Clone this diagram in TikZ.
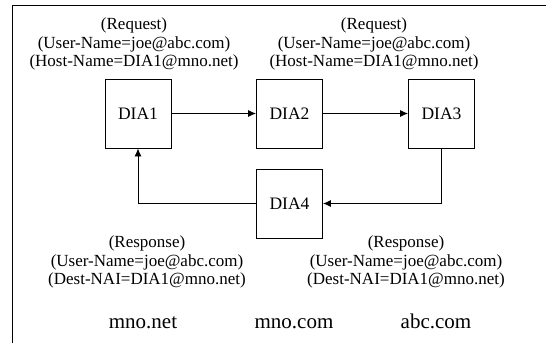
\documentclass[tikz,border=0pt]{standalone}
\usepackage{fontspec}
\setmainfont{Liberation Serif}
\usetikzlibrary{arrows.meta}

\begin{document}
\begin{tikzpicture}[x=1pt, y=-1pt, line width=0.9pt,
  dia/.style={draw, minimum width=66pt, minimum height=69pt, inner sep=0pt, font=\fontsize{17.5}{18}\selectfont},
  msg/.style={align=center, inner sep=0pt, font=\fontsize{17}{18.5}\selectfont},
  dom/.style={inner sep=0pt, anchor=base, font=\fontsize{21}{22}\selectfont},
  flow/.style={-{Latex[length=8pt, width=7pt]}}]
  \useasboundingbox (0,0) rectangle (546,343);
  % frame
  \draw (12,343) -- (12,5) -- (546,5);
  % agents
  \node[dia] (1) at (138,113.5) {DIA1};
  \node[dia] (2) at (289.5,113.5) {DIA2};
  \node[dia] (3) at (441.5,113.5) {DIA3};
  \node[dia] (4) at (289.5,203.5) {DIA4};
  % messages
  \node[msg] (req1) at (134,44) {(Request)\\(User-Name=joe@abc.com)\\(Host-Name=DIA1@mno.net)};
  \node[msg] (req2) at (374,44) {(Request)\\(User-Name=joe@abc.com)\\(Host-Name=DIA1@mno.net)};
  \node[msg] (res1) at (147,262) {(Response)\\(User-Name=joe@abc.com)\\(Dest-NAI=DIA1@mno.net)};
  \node[msg] (res2) at (406,262) {(Response)\\(User-Name=joe@abc.com)\\(Dest-NAI=DIA1@mno.net)};
  % domains
  \node[dom] (d1) at (143,328) {mno.net};
  \node[dom] (d2) at (294,328) {mno.com};
  \node[dom] (d3) at (436,328) {abc.com};
  \draw[flow] (1) -- (2);
  \draw[flow] (2) -- (3);
  \draw[flow] (3.south) |- (4.east);
  \draw[flow] (4.west) -| (1.south);
\end{tikzpicture}
\end{document}
